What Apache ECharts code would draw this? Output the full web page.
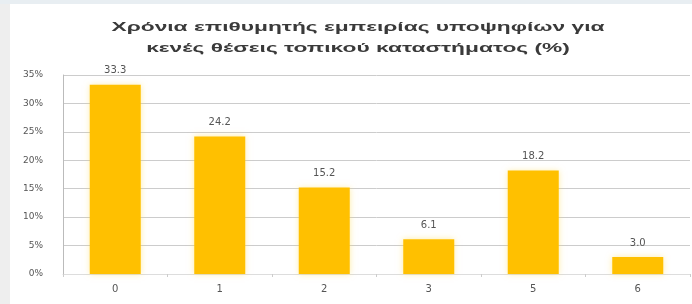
<!DOCTYPE html>
<html>
<head>
<meta charset="utf-8">
<script src="https://cdn.jsdelivr.net/npm/echarts@6/dist/echarts.min.js"></script>
<style>
    html, body { margin: 0; padding: 0; background: #fff; }
    #chart { width: 692px; height: 304px; }
</style>
</head>
<body>
<div id="chart"></div>
<script>
// years of experience categories
var years = ['0', '1', '2', '3', '5', '6'];
// share of candidates (%)
var shares = [33.3, 24.2, 15.2, 6.1, 18.2, 3.0];
var yTicks = [0, 5, 10, 15, 20, 25, 30, 35];
var titleText = 'Χρόνια επιθυμητής εμπειρίας υποψηφίων για\nκενές θέσεις τοπικού καταστήματος (%)';

var chart = echarts.init(document.getElementById('chart'));
var option = {
    backgroundColor: '#fff',
    animation: false,
    graphic: [
        { type: 'rect', shape: { x: 0, y: 0, width: 10, height: 304 }, style: { fill: '#eeeeee' } },
        { type: 'rect', shape: { x: 0, y: 0, width: 692, height: 4 }, style: { fill: '#e8eef2' } },
        // title drawn stretched, like the reference
        {
            type: 'text',
            x: 358,
            y: 17,
            scaleX: 1.75,
            style: {
                text: titleText,
                align: 'center',
                verticalAlign: 'top',
                font: 'bold 13px "Liberation Sans"',
                lineHeight: 21,
                fill: '#3a3a3a'
            }
        }
    ],
    grid: { left: 63, right: 2, top: 75, bottom: 30 },
    xAxis: {
        type: 'category',
        data: years,
        axisLine: { lineStyle: { color: '#ddd' } },
        axisTick: { show: true, length: 3, lineStyle: { color: '#ccc' } },
        axisLabel: { color: '#555', fontSize: 10, fontFamily: 'DejaVu Sans', margin: 10 }
    },
    yAxis: {
        type: 'value',
        min: yTicks[0],
        max: yTicks[yTicks.length - 1],
        interval: 5,
        axisLine: { show: true, lineStyle: { color: '#bbb' } },
        axisTick: { show: false },
        splitLine: { lineStyle: { color: '#ccc' } },
        axisLabel: {
            color: '#555',
            fontSize: 9,
            fontFamily: 'DejaVu Sans',
            margin: 20,
            formatter: function(v){ return v + '%'; }
        }
    },
    series: [{
        type: 'bar',
        data: shares,
        barWidth: 51,
        itemStyle: {
            color: '#FFC000',
            shadowColor: 'rgba(255, 220, 80, 0.5)',
            shadowBlur: 6
        },
        label: {
            show: true,
            position: 'top',
            color: '#555',
            fontSize: 10,
            fontFamily: 'DejaVu Sans',
            distance: 9,
            formatter: function(p){ return p.value.toFixed(1); }
        }
    }]
};
chart.setOption(option);
</script>
</body>
</html>
